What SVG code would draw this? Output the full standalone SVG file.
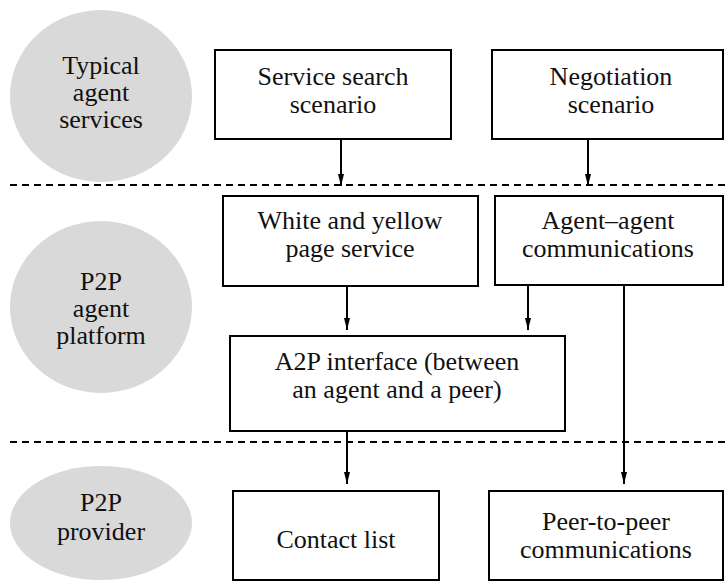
<svg xmlns="http://www.w3.org/2000/svg" width="725" height="581" viewBox="0 0 725 581">
<style>
  .lbl{font-family:"Liberation Serif","Times New Roman",serif;font-size:26px;fill:#111;text-anchor:middle}
  .box{fill:#fff;stroke:#000;stroke-width:2}
  .ell{fill:#d9d9d9;stroke:none}
  .con{stroke:#000;stroke-width:2;fill:none}
  .dash{stroke:#000;stroke-width:2;stroke-dasharray:7 5;fill:none}
</style>
<defs>
  <marker id="arr" viewBox="0 0 12 8" refX="12" refY="4" markerWidth="12" markerHeight="8" markerUnits="userSpaceOnUse" orient="auto">
    <path d="M0,1 L12,4 L0,7 Z" fill="#000"/>
  </marker>
</defs>
<rect width="725" height="581" fill="#fff"/>
<g id="layers">
  <line class="dash" x1="10" y1="185" x2="725" y2="185"/>
  <line class="dash" x1="10" y1="442" x2="725" y2="442"/>
</g>
<g id="layer-typical">
  <ellipse class="ell" cx="101" cy="96" rx="91" ry="86"/>
  <text class="lbl" x="101" y="74">Typical</text>
  <text class="lbl" x="101" y="101">agent</text>
  <text class="lbl" x="101" y="128">services</text>
</g>
<g id="layer-platform">
  <ellipse class="ell" cx="101" cy="307" rx="91" ry="86"/>
  <text class="lbl" x="101" y="290">P2P</text>
  <text class="lbl" x="101" y="317">agent</text>
  <text class="lbl" x="101" y="344">platform</text>
</g>
<g id="layer-provider">
  <ellipse class="ell" cx="101" cy="523" rx="91" ry="57"/>
  <text class="lbl" x="101" y="511">P2P</text>
  <text class="lbl" x="101" y="540">provider</text>
</g>
<g id="service-search">
  <rect class="box" x="215" y="50" width="236" height="89"/>
  <text class="lbl" x="333" y="85">Service search</text>
  <text class="lbl" x="333" y="113">scenario</text>
</g>
<g id="negotiation">
  <rect class="box" x="492" y="50" width="231" height="89"/>
  <text class="lbl" x="611" y="85">Negotiation</text>
  <text class="lbl" x="611" y="113">scenario</text>
</g>
<g id="white-yellow">
  <rect class="box" x="223" y="196" width="255" height="90"/>
  <text class="lbl" x="350" y="229">White and yellow</text>
  <text class="lbl" x="350" y="257">page service</text>
</g>
<g id="agent-agent">
  <rect class="box" x="495" y="196" width="228" height="89"/>
  <text class="lbl" x="608" y="229">Agent–agent</text>
  <text class="lbl" x="608" y="257">communications</text>
</g>
<g id="a2p">
  <rect class="box" x="230" y="336" width="335" height="95"/>
  <text class="lbl" x="397" y="370">A2P interface (between</text>
  <text class="lbl" x="397" y="398">an agent and a peer)</text>
</g>
<g id="contact-list">
  <rect class="box" x="233" y="491" width="206" height="89"/>
  <text class="lbl" x="336" y="548">Contact list</text>
</g>
<g id="peer-to-peer">
  <rect class="box" x="489" y="491" width="234" height="89"/>
  <text class="lbl" x="606" y="530">Peer-to-peer</text>
  <text class="lbl" x="606" y="558">communications</text>
</g>
<g id="connectors">
  <line class="con" x1="341" y1="139" x2="341" y2="186" marker-end="url(#arr)"/>
  <line class="con" x1="588" y1="139" x2="588" y2="186" marker-end="url(#arr)"/>
  <line class="con" x1="347" y1="286" x2="347" y2="330" marker-end="url(#arr)"/>
  <line class="con" x1="528" y1="285" x2="528" y2="330" marker-end="url(#arr)"/>
  <line class="con" x1="347" y1="431" x2="347" y2="484" marker-end="url(#arr)"/>
  <line class="con" x1="624" y1="285" x2="624" y2="484" marker-end="url(#arr)"/>
</g>
</svg>
